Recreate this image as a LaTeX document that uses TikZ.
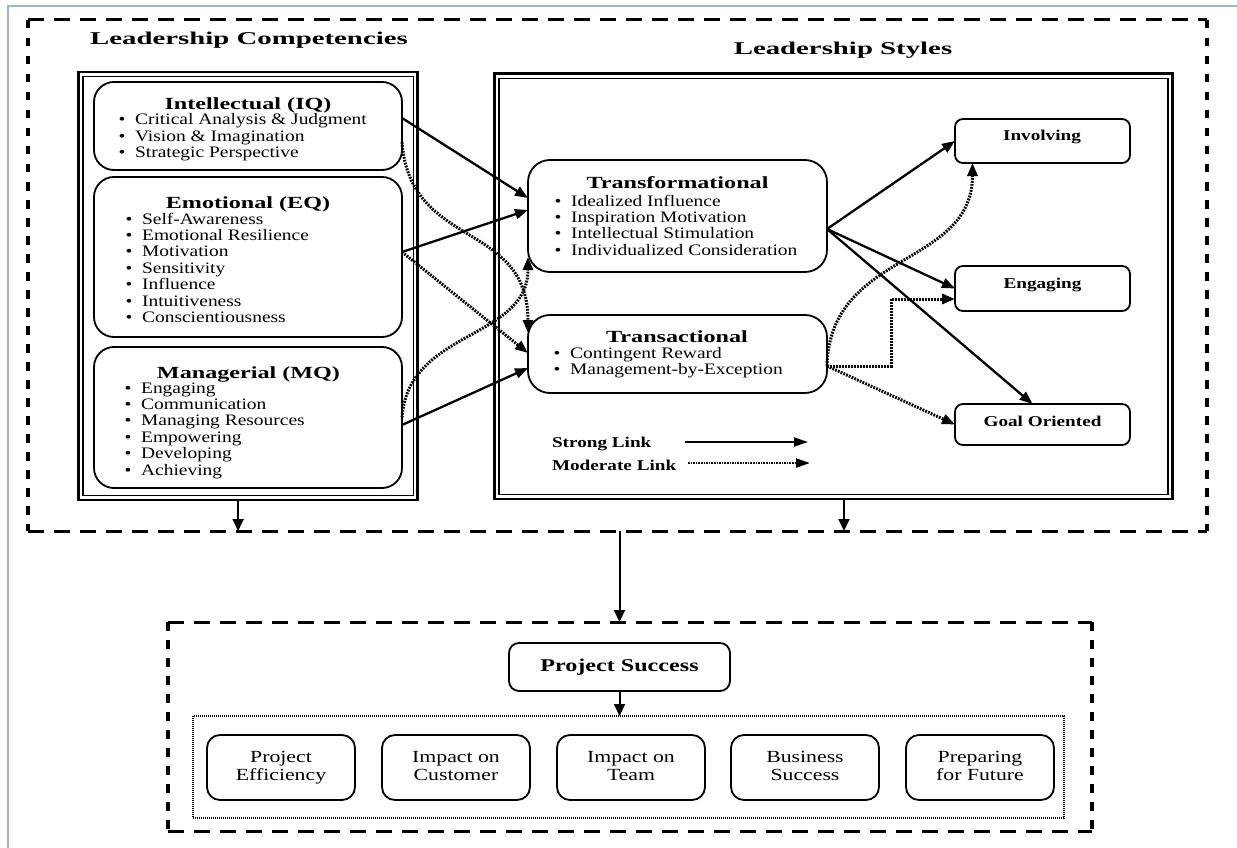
\documentclass[tikz,border=0pt]{standalone}
\usepackage{fontspec}
\setmainfont{Liberation Serif}
\usetikzlibrary{arrows.meta,calc}

\definecolor{edgeblue}{RGB}{160,178,206}
% horizontally widened text
\newcommand{\hx}[2]{\scalebox{#1}[1]{#2}}
\newcommand{\bitem}{\textbullet\hspace{0.5em}}

\begin{document}
\begin{tikzpicture}[x=1pt, y=-1pt,
  every node/.style={inner sep=0pt, outer sep=0pt},
  pageedge/.style={draw=edgeblue, line width=1.8pt},
  hdash/.style={line width=3pt, dash pattern=on 16pt off 10pt},
  vdash/.style={line width=3.3pt, dash pattern=on 8.5pt off 9.5pt},
  region/.style={draw=none},
  frameout/.style={draw, line width=2.6pt},
  framein/.style={draw, line width=1.2pt},
  compbox/.style={draw, line width=1.8pt, rounded corners=20pt, minimum width=308pt},
  stylebox/.style={draw, line width=1.8pt, rounded corners=22pt, minimum width=299pt},
  resultbox/.style={draw, line width=1.8pt, rounded corners=8pt, minimum width=175pt},
  psbox/.style={draw, line width=1.8pt, rounded corners=10pt, minimum width=221pt, minimum height=48pt,
    font=\fontsize{18}{20}\selectfont\bfseries},
  critbox/.style={draw, line width=1.8pt, rounded corners=13pt, minimum width=148pt, minimum height=65pt,
    font=\fontsize{17}{18}\selectfont},
  critframe/.style={draw, line width=1.4pt, dash pattern=on 1pt off 1pt},
  titletxt/.style={anchor=base, font=\fontsize{18}{20}\selectfont\bfseries},
  headtxt/.style={anchor=base, font=\fontsize{17}{19}\selectfont\bfseries},
  listtxt/.style={anchor=base west, font=\fontsize{16}{16.4}\selectfont},
  keytxt/.style={font=\fontsize{15}{17}\selectfont\bfseries},
  strong/.style={line width=2.3pt, -{Triangle[length=13pt,width=10pt]}},
  moderate/.style={line width=3pt, dash pattern=on 1.8pt off 1.2pt, -{Triangle[length=13pt,width=10pt]}},
  keystrong/.style={line width=1.8pt, -{Triangle[length=14pt,width=9pt]}},
  keymoderate/.style={line width=2.4pt, dash pattern=on 1.6pt off 1pt, -{Triangle[length=14pt,width=9pt]}},
  drop/.style={line width=2pt, -{Triangle[length=12pt,width=11pt]}}
]
\useasboundingbox (0,0) rectangle (1237,848);

% page edge
\draw[pageedge] (8,848) -- (8,6) -- (1237,6);

% dashed regions
\node[region, minimum width=1179pt, minimum height=511pt] (lead) at (617.5,275.5) {};
\draw[hdash] (lead.north west) -- (lead.north east);
\draw[hdash] (lead.south west) -- (lead.south east);
\draw[vdash] (lead.north west) -- (lead.south west);
\draw[vdash] (lead.north east) -- (lead.south east);

\node[region, minimum width=924pt, minimum height=209pt] (succ) at (630,726.5) {};
\draw[hdash] (succ.north west) -- (succ.north east);
\draw[hdash] (succ.south west) -- (succ.south east);
\draw[vdash] (succ.north west) -- (succ.south west);
\draw[vdash] (succ.north east) -- (succ.south east);

% titles
\node[titletxt] (lct) at (249,45) {\hx{1.6}{Leadership Competencies}};
\node[titletxt] (lst) at (843,55) {\hx{1.6}{Leadership Styles}};

% double frames
\node[frameout, minimum width=338.8pt, minimum height=427.8pt] (lcout) at (248.1,286.1) {};
\node[framein, minimum width=330.2pt, minimum height=419.2pt] (lcin) at (248.1,286.1) {};
\node[frameout, minimum width=678pt, minimum height=425.2pt] (lsout) at (833.5,286.4) {};
\node[framein, minimum width=669pt, minimum height=416.2pt] (lsin) at (833.5,286.4) {};

% competency boxes
\node[compbox, minimum height=88pt] (iq) at (248,126) {};
\node[compbox, minimum height=160pt] (eq) at (248,257) {};
\node[compbox, minimum height=141pt] (mq) at (248,417.5) {};

\node[headtxt] (iqh) at (248,110) {\hx{1.42}{Intellectual (IQ)}};
\node[listtxt] (iql) at (118.6,125) {\hx{1.215}{\begin{tabular}[t]{@{}l@{}}
  \bitem Critical Analysis \& Judgment\\ \bitem Vision \& Imagination\\ \bitem Strategic Perspective\end{tabular}}};

\node[headtxt] (eqh) at (248,208) {\hx{1.42}{Emotional (EQ)}};
\node[listtxt] (eql) at (125.6,224) {\hx{1.215}{\begin{tabular}[t]{@{}l@{}}
  \bitem Self-Awareness\\ \bitem Emotional Resilience\\ \bitem Motivation\\ \bitem Sensitivity\\
  \bitem Influence\\ \bitem Intuitiveness\\ \bitem Conscientiousness\end{tabular}}};

\node[headtxt] (mqh) at (248.5,378) {\hx{1.42}{Managerial (MQ)}};
\node[listtxt] (mql) at (124.6,393) {\hx{1.215}{\begin{tabular}[t]{@{}l@{}}
  \bitem Engaging\\ \bitem Communication\\ \bitem Managing Resources\\ \bitem Empowering\\
  \bitem Developing\\ \bitem Achieving\end{tabular}}};

% style boxes
\node[stylebox, minimum height=112pt] (tf) at (677.5,216) {};
\node[stylebox, minimum height=78pt] (ta) at (677.5,354) {};

\node[headtxt] (tfh) at (677.5,188) {\hx{1.42}{Transformational}};
\node[listtxt] (tfl) at (554.6,206) {\hx{1.215}{\begin{tabular}[t]{@{}l@{}}
  \bitem Idealized Influence\\ \bitem Inspiration Motivation\\ \bitem Intellectual Stimulation\\
  \bitem Individualized Consideration\end{tabular}}};

\node[headtxt] (tah) at (677,342) {\hx{1.42}{Transactional}};
\node[listtxt] (tal) at (553.6,358) {\hx{1.215}{\begin{tabular}[t]{@{}l@{}}
  \bitem Contingent Reward\\ \bitem Management-by-Exception\end{tabular}}};

% outcome boxes
\node[resultbox, minimum height=44pt] (inv) at (1042.5,141) {};
\node[resultbox, minimum height=45pt] (eng) at (1042.5,288.5) {};
\node[resultbox, minimum height=41pt] (goal) at (1042.5,424.5) {};
\node[keytxt, anchor=base] (invt) at (1042,141) {\hx{1.28}{Involving}};
\node[keytxt, anchor=base] (engt) at (1042.5,288.5) {\hx{1.28}{Engaging}};
\node[keytxt, anchor=base] (goalt) at (1042.5,426) {\hx{1.28}{Goal Oriented}};

% competencies -> styles
\draw[strong] ([yshift=8pt]iq.east) -- ([yshift=18pt]tf.west);
\draw[strong] ([yshift=5pt]eq.east) -- ([yshift=6pt]tf.west);
\draw[strong] ([yshift=-7.5pt]mq.east) -- ([yshift=-14pt]ta.west);
\draw[moderate] ([yshift=-16pt]iq.east) .. controls +(8,108) and +(0,-113) .. ([yshift=-18pt]ta.north west);
\draw[moderate] ([yshift=5pt]eq.east) -- ([yshift=1pt]ta.west);
\draw[moderate] (mq.east) .. controls +(6,-88) and +(0,83) .. ([yshift=15pt]tf.south west);

% styles -> outcomes
\draw[strong] ([yshift=-13pt]tf.east) -- (inv.west);
\draw[strong] ([yshift=-13pt]tf.east) -- (eng.west);
\draw[strong] ([yshift=-13pt]tf.east) -- ([xshift=-10pt]goal.north);
\draw[moderate] ([yshift=-12pt]ta.east) .. controls +(3,-116) and +(0,105) .. ([xshift=-70pt]inv.south);
\draw[moderate] ([yshift=-12pt]ta.east) -- ++(64,0) |- ([yshift=-10.5pt]eng.west);
\draw[moderate] ([yshift=-12pt]ta.east) -- (goal.west);

% key
\node[keytxt, anchor=base west] (strongkey) at (552,447) {\hx{1.28}{Strong Link}};
\node[keytxt, anchor=base west] (modkey) at (552,470) {\hx{1.28}{Moderate Link}};
\coordinate (s1) at (685,442);
\coordinate (s2) at (808,442);
\coordinate (m1) at (688,463);
\coordinate (m2) at (810,463);
\draw[keystrong] (s1) -- (s2);
\draw[keymoderate] (m1) -- (m2);

% project success
\node[psbox] (ps) at (619.5,667) {\hx{1.34}{Project Success}};
\node[critframe, minimum width=871pt, minimum height=102pt] (crit) at (628.5,767) {};
\node[critbox] (c1) at (281,767.5) {\hx{1.28}{\begin{tabular}{@{}c@{}}Project\\Efficiency\end{tabular}}};
\node[critbox] (c2) at (456,767.5) {\hx{1.28}{\begin{tabular}{@{}c@{}}Impact on\\Customer\end{tabular}}};
\node[critbox] (c3) at (631,767.5) {\hx{1.28}{\begin{tabular}{@{}c@{}}Impact on\\Team\end{tabular}}};
\node[critbox] (c4) at (805,767.5) {\hx{1.28}{\begin{tabular}{@{}c@{}}Business\\Success\end{tabular}}};
\node[critbox] (c5) at (980,767.5) {\hx{1.28}{\begin{tabular}{@{}c@{}}Preparing\\for Future\end{tabular}}};

% flow between regions
\coordinate (lcfoot) at ([xshift=-10pt]lcout.south);
\coordinate (lsfoot) at ([xshift=10.5pt]lsout.south);
\draw[drop] (lcfoot) -- (lcfoot |- lead.south);
\draw[drop] (lsfoot) -- (lsfoot |- lead.south);
\draw[drop] (ps.north |- lead.south) -- (ps.north |- succ.north);
\draw[drop] (ps.south) -- (ps.south |- crit.north);
\end{tikzpicture}
\end{document}
